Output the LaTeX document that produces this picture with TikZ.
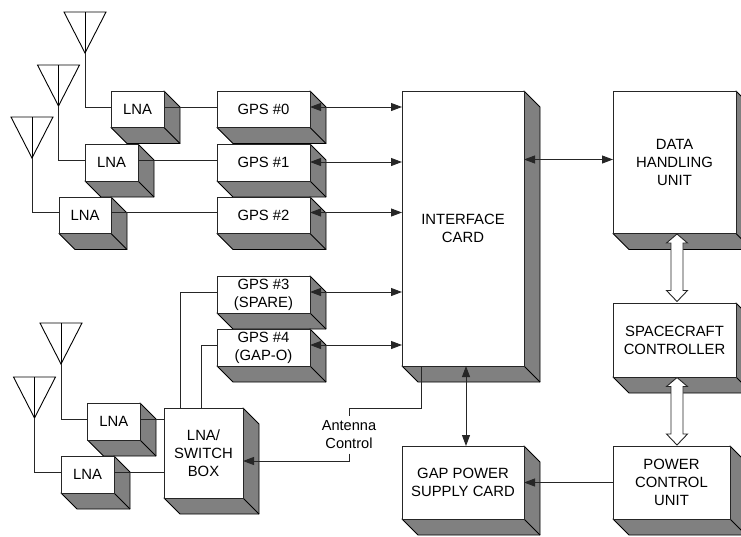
\documentclass[tikz,border=0pt]{standalone}
\usepackage{fontspec}
\setmainfont{Liberation Sans}
\usetikzlibrary{arrows.meta}
\definecolor{shadegray}{HTML}{808080}
\tikzset{
  wire/.style={line width=0.9pt,draw=black!85},
  arrowline/.style={wire,-{Triangle[length=11pt,width=8pt]}},
  bothline/.style={wire,{Triangle[length=11pt,width=8pt]}-{Triangle[length=11pt,width=8pt]}},
  front/.style={draw=black!85,line width=0.9pt,fill=white,inner sep=0pt,outer sep=0pt,align=center,
    font=\fontsize{14.85pt}{18pt}\selectfont},
  shade3d/.style={draw=black,line width=0.9pt,fill=shadegray,line join=round},
  label/.style={fill=white,inner sep=0pt,outer sep=0pt,align=center,
    font=\fontsize{14.6pt}{17.5pt}\selectfont},
  hollow/.style={draw=black!85,line width=0.9pt,fill=white,line join=miter},
  antennaline/.style={draw=black,line width=0.9pt,line join=miter}
}
% name, x1, y1, x2, y2, text
\newcommand{\blockbox}[6]{%
  \pgfmathsetmacro{\bcx}{(#2+#4)/2}%
  \pgfmathsetmacro{\bcy}{(#3+#5)/2}%
  \pgfmathsetmacro{\bw}{#4-#2}%
  \pgfmathsetmacro{\bh}{#5-#3}%
  \draw[shade3d] (#4,#3) -- ++(16,16) -- (#4+16,#5+16) -- (#2+16,#5+16) -- (#2,#5) -- (#4,#5) -- cycle;
  \draw[shade3d] (#4,#5) -- (#4+16,#5+16);
  \node[front,minimum width=\bw pt,minimum height=\bh pt] (#1) at (\bcx,\bcy) {#6};
}
% name, centre x, top y
\newcommand{\antennashape}[3]{%
  \coordinate (#1) at (#2,#3+41);
  \draw[antennaline] (#2-21,#3) -- (#2+21,#3) -- (#1) -- cycle;
  \draw[antennaline] (#2,#3) -- (#1);
}
% centre x, top y, bottom y
\newcommand{\hollowarrow}[3]{%
  \draw[hollow] (#1,#2) -- (#1+10.5,#2+9) -- (#1+6,#2+9) -- (#1+6,#3-11) -- (#1+10.5,#3-11)
    -- (#1,#3) -- (#1-10.5,#3-11) -- (#1-6,#3-11) -- (#1-6,#2+9) -- (#1-10.5,#2+9) -- cycle;
}
\begin{document}
\begin{tikzpicture}[x=1pt,y=-1pt]
\useasboundingbox (0,0) rectangle (741,536);
\clip (0,0) rectangle (741,536);

\blockbox{lnaA}{111}{91}{164}{127.5}{LNA}
\blockbox{lnaB}{85}{144}{138}{181}{LNA}
\blockbox{lnaC}{59}{197}{111}{233.5}{LNA}
\blockbox{gpsZero}{217}{91}{310}{127.5}{GPS \#0}
\blockbox{gpsOne}{217}{144}{310}{181}{GPS \#1}
\blockbox{gpsTwo}{217}{197}{310}{233.5}{GPS \#2}
\blockbox{gpsThree}{217}{276}{310}{313}{GPS \#3\\(SPARE)}
\blockbox{gpsFour}{217}{329}{310}{366}{GPS \#4\\(GAP-O)}
\blockbox{iface}{402}{91}{524}{366}{INTERFACE\\CARD}
\blockbox{dhu}{613}{91}{736}{233.5}{DATA\\HANDLING\\UNIT}
\blockbox{scc}{613}{303}{736}{377}{SPACECRAFT\\CONTROLLER}
\blockbox{pcu}{613}{446}{730}{519}{POWER\\CONTROL\\UNIT}
\blockbox{gap}{402}{446}{524}{519}{GAP POWER\\SUPPLY CARD}
\blockbox{lnaD}{87.5}{403}{140}{440}{LNA}
\blockbox{lnaE}{61}{456}{114}{493}{LNA}
\blockbox{swbox}{164}{408}{243}{498}{LNA/\\SWITCH\\BOX}

\antennashape{antA}{85}{12}
\antennashape{antB}{58.5}{65}
\antennashape{antC}{32}{117}
\antennashape{antD}{61}{323}
\antennashape{antE}{34.5}{377}

% antenna to LNA
\draw[wire] (antA) |- (lnaA.west |- 0,107);
\draw[wire] (antB) |- (lnaB.west |- 0,160);
\draw[wire] (antC) |- (lnaC.west |- 0,212.5);
\draw[wire] (antD) |- (lnaD.west |- 0,419);
\draw[wire] (antE) |- (lnaE.west |- 0,472);

% LNA to GPS / switch box
\draw[wire] (lnaA.east |- 0,107) -- (gpsZero.west |- 0,107);
\draw[wire] (lnaB.east |- 0,160) -- (gpsOne.west |- 0,160);
\draw[wire] (lnaC.east |- 0,212.5) -- (gpsTwo.west |- 0,212.5);
\draw[wire] (lnaD.east |- 0,419) -- (swbox.west |- 0,419);
\draw[wire] (lnaE.east |- 0,472) -- (swbox.west |- 0,472);

% switch box to GPS
\draw[wire] (swbox.north -| 180,0) |- (gpsThree.west |- 0,292);
\draw[wire] (swbox.north -| 201.5,0) |- (gpsFour.west |- 0,345);

% GPS to interface card
\draw[bothline] (gpsZero.east |- 0,107) -- (iface.west |- 0,107);
\draw[bothline] (gpsOne.east |- 0,162) -- (iface.west |- 0,162);
\draw[bothline] (gpsTwo.east |- 0,212.5) -- (iface.west |- 0,212.5);
\draw[bothline] (gpsThree.east |- 0,292) -- (iface.west |- 0,292);
\draw[bothline] (gpsFour.east |- 0,345) -- (iface.west |- 0,345);

% interface links
\draw[bothline] (iface.east |- 0,159.5) -- (dhu.west |- 0,159.5);
\draw[bothline] (iface.south -| 466,0) -- (gap.north -| 466,0);
\draw[arrowline] (pcu.west |- 0,482.5) -- (gap.east |- 0,482.5);

% antenna control
\node[label,minimum width=56pt,minimum height=38pt] (antctl) at (349,434.5) {Antenna\\Control};
\draw[wire] (iface.south -| 421,0) |- (349,408) -- (antctl.north);
\draw[arrowline] (antctl.south) |- (swbox.east |- 0,461);

% hollow bus arrows
\hollowarrow{677}{234}{301.5}
\hollowarrow{677}{377.5}{445}
\end{tikzpicture}
\end{document}
